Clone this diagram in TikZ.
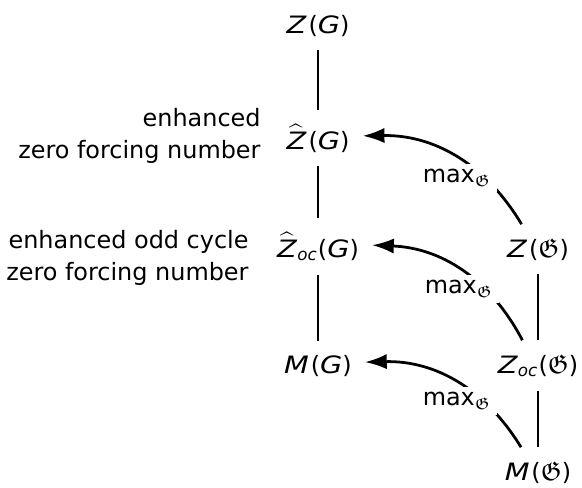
\documentclass[tikz,border=0pt]{standalone}
\usepackage{amsmath,amssymb}
\usepackage{graphicx}
\usepackage{fontspec}
\setmainfont{DejaVu Sans}
\usetikzlibrary{arrows.meta}
\newcommand\mi[1]{\scalebox{1.2}[1]{\textit{#1}}}
\newcommand\frG{\scalebox{1.12}{$\mathfrak{G}$}}
\newcommand\frGs{\ensuremath{\mathfrak{G}}}
\tikzset{
  obj/.style={inner xsep=5.5pt, inner ysep=6pt, anchor=base},
  conn/.style={very thick},
  mapto/.style={very thick, -{Latex[length=9.5pt,width=6.6pt]}, bend right=30},
  lbl/.style={fill=white, inner sep=2.5pt},
  side/.style={align=right, inner sep=0pt, anchor=east}
}
\begin{document}
\begin{tikzpicture}[x=0.4348pt, y=-0.4348pt, font=\fontsize{10.4}{13.9}\selectfont]
\path[use as bounding box] (0,0) rectangle (582,488);
\node[obj] (zG) at (318,33) {\mi{Z}\kern0.8pt(\mi{G})};
\node[obj] (zhG) at (318,149) {$\widehat{\mi{Z}}$\kern0.8pt(\mi{G})};
\node[obj] (zhocG) at (318,257) {$\widehat{\mi{Z}}_{\textit{oc}}$(\mi{G})};
\node[obj] (mG) at (318,373) {\mi{M}\kern0.8pt(\mi{G})};
\node[obj] (zF) at (538,257) {\mi{Z}\kern0.8pt(\frG)};
\node[obj] (zocF) at (538,373) {\mi{Z}$_{\textit{oc}}$(\frG)};
\node[obj] (mF) at (538,480) {\mi{M}\kern0.8pt(\frG)};
\draw[conn] (zG) -- (zhG);
\draw[conn] (zhG) -- (zhocG);
\draw[conn] (zhocG) -- (mG);
\draw[conn] (zF) -- (zocF);
\draw[conn] (zocF) -- (mF);
\draw[mapto] (zF) to (zhG);
\draw[mapto] (zocF) to (zhocG);
\draw[mapto] (mF) to (mG);
\node[lbl] (l1) at (457,178) {max$_{\frGs}$};
\node[lbl] (l2) at (459,289) {max$_{\frGs}$};
\node[lbl] (l3) at (457,401) {max$_{\frGs}$};
\node[side] (t1) at (261,136) {enhanced\\zero forcing number};
\node[side] (t2) at (249,258) {enhanced odd cycle\\zero forcing number};
\end{tikzpicture}
\end{document}
